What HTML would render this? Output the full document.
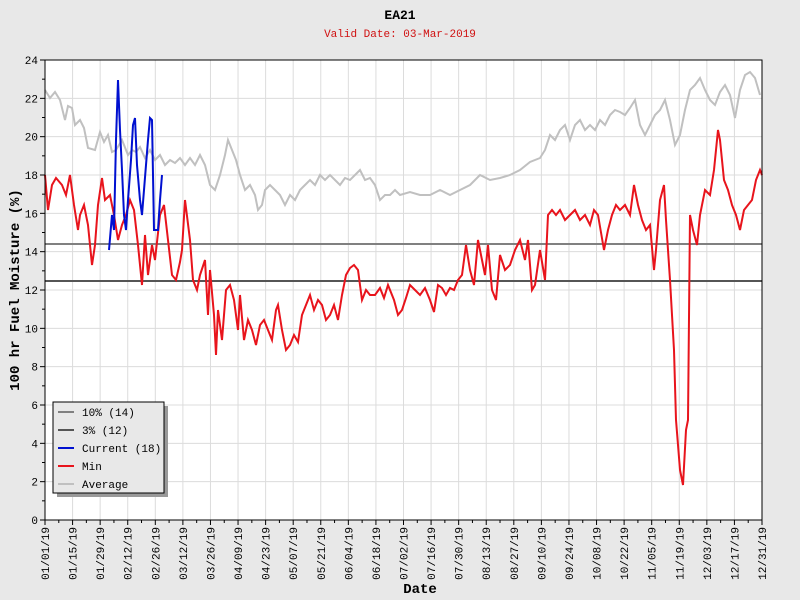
<!DOCTYPE html>
<html><head><meta charset="utf-8"><style>
html,body{margin:0;padding:0;background:#e8e8e8;}
svg{display:block;font-family:"Liberation Mono","DejaVu Sans Mono",monospace;}
</style></head><body>
<svg id="s" width="800" height="600" xmlns="http://www.w3.org/2000/svg">
<rect width="800" height="600" fill="#e8e8e8"/>
<rect x="45" y="60" width="717" height="460" fill="#fff"/>
<g id="grid"></g>
<line x1="45" y1="244" x2="762" y2="244" stroke="#808080" stroke-width="2"/>
<line x1="45" y1="281" x2="762" y2="281" stroke="#555" stroke-width="2"/>
<polyline fill="none" stroke="#c0c0c0" stroke-width="2" points="45,90 50,98 55,92 60,100 65,120 68,106 72,108 75,125 80,120 84,128 88,148 95,150 100,132 104,142 108,135 112,152 116,150 122,140 128,155 132,150 136,152 140,147 145,158 150,150 155,160 160,155 165,165 170,160 175,163 180,158 185,165 190,158 195,165 200,155 205,165 210,185 215,190 220,175 225,155 228,140 232,150 236,160 240,175 245,190 250,185 255,195 258,210 262,205 265,190 270,185 275,190 280,195 285,205 290,195 295,200 300,190 305,185 310,180 315,185 320,175 325,180 330,175 335,180 340,185 345,178 350,180 355,175 360,170 365,180 370,178 375,185 380,200 385,195 390,195 395,190 400,195 410,192 420,195 430,195 440,190 450,195 460,190 470,185 475,180 480,175 490,180 500,178 510,175 520,170 530,162 540,158 545,150 550,135 555,140 560,130 565,125 570,140 575,125 580,120 585,130 590,125 595,130 600,120 605,125 610,115 615,110 620,112 625,115 630,108 635,100 640,125 645,135 650,125 655,115 660,110 665,100 670,120 675,145 680,135 685,110 690,90 695,85 700,78 705,90 710,100 715,105 720,92 725,85 730,95 735,118 740,90 745,75 750,72 755,78 760,95"/>
<polyline fill="none" stroke="#e8141c" stroke-width="2" points="45,175 48,210 52,185 56,178 62,185 66,195 70,175 74,205 78,230 80,215 84,205 88,225 92,265 95,245 98,205 102,178 105,200 110,195 114,215 118,240 122,225 126,215 130,200 134,210 138,245 142,285 145,235 148,275 152,245 155,260 160,215 164,205 168,240 172,275 176,280 180,262 182,250 185,200 190,240 193,280 197,290 200,275 205,260 208,315 210,270 214,315 216,355 218,310 222,340 226,290 230,285 234,300 238,330 240,295 244,340 248,320 252,330 256,345 260,325 264,320 268,330 272,340 276,310 278,305 282,330 286,350 290,345 294,335 298,342 302,315 306,305 310,295 314,310 318,300 322,305 326,320 330,315 334,305 338,320 342,295 346,275 350,268 354,265 358,270 362,300 366,290 370,295 375,295 380,288 384,298 388,285 394,300 398,315 402,310 406,298 410,285 415,290 420,295 425,288 430,300 434,312 438,285 442,288 446,295 450,288 454,290 458,280 462,275 466,245 470,270 474,285 478,240 482,260 485,275 488,245 492,290 496,300 500,255 505,270 510,265 515,250 520,240 525,260 528,240 532,290 535,285 540,250 545,280 548,215 552,210 556,215 560,210 565,220 570,215 575,210 580,220 585,215 590,225 594,210 598,215 604,250 608,230 612,215 616,205 620,210 625,205 630,215 634,185 638,205 642,220 646,230 650,225 654,270 656,250 660,200 664,185 666,220 670,280 674,350 676,420 680,470 683,485 686,430 688,420 690,215 693,230 697,245 700,215 705,190 710,195 714,170 718,130 720,140 724,180 728,190 732,205 736,215 740,230 744,210 748,205 752,200 756,180 760,170 762,175"/>
<polyline fill="none" stroke="#0010d0" stroke-width="2" points="109,250 112,215 114,230 116,140 118,80 120,130 122,170 124,215 126,230 128,200 131,160 133,125 135,118 137,165 140,200 142,215 144,190 146,165 148,140 150,118 152,120 154,230 156,230 158,230 160,200 162,175"/>
<rect x="45" y="60" width="717" height="460" fill="none" stroke="#000" stroke-width="1"/>
<g id="ax" font-size="11" fill="#000"></g>
<text x="400" y="19" text-anchor="middle" font-size="13" font-weight="bold">EA21</text>
<text x="400" y="37" text-anchor="middle" font-size="11" fill="#d01010">Valid Date: 03-Mar-2019</text>
<text x="420" y="593" text-anchor="middle" font-size="14" font-weight="bold">Date</text>
<text transform="translate(19,290) rotate(-90)" text-anchor="middle" font-size="14" font-weight="bold">100 hr Fuel Moisture (%)</text>
<rect x="57" y="406" width="111" height="91" fill="#999"/>
<rect x="53" y="402" width="111" height="91" fill="#e8e8e8" stroke="#000"/>
<g font-size="11">
<line x1="58" y1="412" x2="74" y2="412" stroke="#808080" stroke-width="2"/><text x="82" y="416">10% (14)</text>
<line x1="58" y1="430" x2="74" y2="430" stroke="#555" stroke-width="2"/><text x="82" y="434">3% (12)</text>
<line x1="58" y1="448" x2="74" y2="448" stroke="#0010d0" stroke-width="2"/><text x="82" y="452">Current (18)</text>
<line x1="58" y1="466" x2="74" y2="466" stroke="#e8141c" stroke-width="2"/><text x="82" y="470">Min</text>
<line x1="58" y1="484" x2="74" y2="484" stroke="#c0c0c0" stroke-width="2"/><text x="82" y="488">Average</text>
</g>
</svg>
<script>
var NS="http://www.w3.org/2000/svg",g=document.getElementById("grid"),ax=document.getElementById("ax");
function el(p,t,a,tx){var e=document.createElementNS(NS,t);for(var k in a)e.setAttribute(k,a[k]);if(tx)e.textContent=tx;p.appendChild(e);return e;}
for(var v=0;v<=24;v++){var y=520-v*460/24;
 if(v%2==0){el(g,"line",{x1:45,x2:762,y1:y,y2:y,stroke:"#dcdcdc"});el(ax,"text",{x:38,y:y+4,"text-anchor":"end"},String(v));el(ax,"line",{x1:40,x2:45,y1:y,y2:y,stroke:"#000"});}
 else el(ax,"line",{x1:42,x2:45,y1:y,y2:y,stroke:"#000"});}
var d=["01/01/19","01/15/19","01/29/19","02/12/19","02/26/19","03/12/19","03/26/19","04/09/19","04/23/19","05/07/19","05/21/19","06/04/19","06/18/19","07/02/19","07/16/19","07/30/19","08/13/19","08/27/19","09/10/19","09/24/19","10/08/19","10/22/19","11/05/19","11/19/19","12/03/19","12/17/19","12/31/19"];
var px=717/364;
for(var i=0;i<d.length;i++){var x=45+i*14*px;
 el(g,"line",{x1:x,x2:x,y1:60,y2:520,stroke:"#dcdcdc"});
 el(ax,"line",{x1:x,x2:x,y1:520,y2:525,stroke:"#000"});
 if(i<d.length-1){var xm=x+7*px;el(ax,"line",{x1:xm,x2:xm,y1:520,y2:523,stroke:"#000"});}
 el(ax,"text",{transform:"translate("+(x+4)+",527) rotate(-90)","text-anchor":"end"},d[i]);}
</script>
</body></html>
